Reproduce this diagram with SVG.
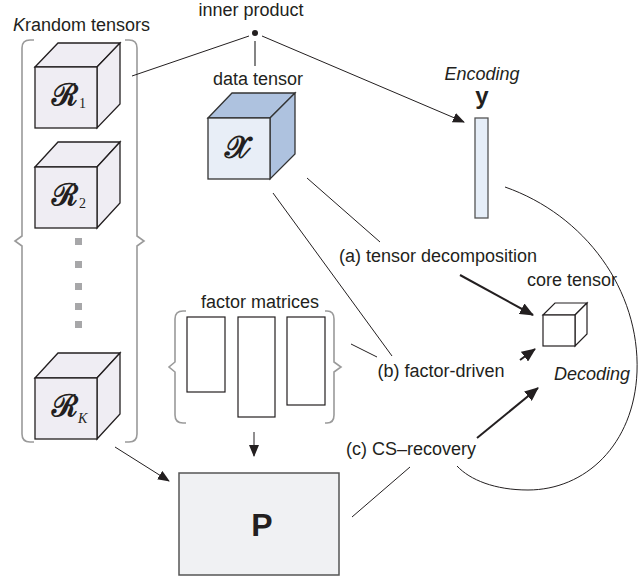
<svg xmlns="http://www.w3.org/2000/svg" width="639" height="579" viewBox="0 0 639 579">
<style>
text{font-family:"Liberation Sans",Arial,sans-serif;font-size:18px;fill:#231f20}
.it{font-style:italic}
.cal{font-family:"DejaVu Serif","Noto Sans Math",serif;font-weight:bold;font-size:30px}
.sub{font-family:"Liberation Serif",serif;font-size:14px}
.big{font-weight:bold;font-size:32px}
.yb{font-weight:bold;font-size:24px}
.rc{fill:#efedf3;stroke:#231f20;stroke-width:1.3}
.xf{fill:#e8eef7;stroke:#333;stroke-width:1.3}
.xs{fill:#aec2df;stroke:#333;stroke-width:1.3}
.br{fill:none;stroke:#9a9a9a;stroke-width:1.6}
.ln{fill:none;stroke:#231f20;stroke-width:1}
.th{fill:none;stroke:#231f20;stroke-width:2}
.mat{fill:#fff;stroke:#231f20;stroke-width:1.2}
</style>
<defs>
<marker id="ah" markerUnits="userSpaceOnUse" markerWidth="12" markerHeight="10" refX="11" refY="5" orient="auto"><path d="M0,0 L12,5 L0,10 Z" fill="#231f20"/></marker>
<marker id="ahb" markerUnits="userSpaceOnUse" markerWidth="14" markerHeight="12" refX="13" refY="6" orient="auto"><path d="M0,0 L14,6 L0,12 Z" fill="#231f20"/></marker>
</defs>

<g id="random-tensors">
<text x="13" y="31"><tspan class="it">K</tspan>random tensors</text>
<path class="br" d="M34,40 H30 Q22,40 22,48 V236 L15,241 L22,246 V434 Q22,442 30,442 H34"/>
<path class="br" d="M125,40 H129 Q137,40 137,48 V236 L144,241 L137,246 V434 Q137,442 129,442 H125"/>
</g>

<g id="R1">
<path class="rc" d="M35,67 L58,43 L120,43 L97,67 Z"/>
<path class="rc" d="M97,67 L120,43 L120,104 L97,128 Z"/>
<rect class="rc" x="35" y="67" width="62" height="61"/>
<text class="cal" x="51" y="105">ℛ</text><text class="sub" x="79" y="108">1</text>
</g>
<g id="R2">
<path class="rc" d="M35,167 L58,142 L120,142 L97,167 Z"/>
<path class="rc" d="M97,167 L120,142 L120,203 L97,228 Z"/>
<rect class="rc" x="35" y="167" width="62" height="61"/>
<text class="cal" x="51" y="205">ℛ</text><text class="sub" x="79" y="208">2</text>
</g>
<g id="dots" fill="#a7a7a9">
<rect x="75" y="238" width="7" height="7"/>
<rect x="75" y="261" width="7" height="7"/>
<rect x="75" y="283" width="7" height="7"/>
<rect x="75" y="303" width="7" height="7"/>
<rect x="75" y="321" width="7" height="7"/>
</g>
<g id="RK">
<path class="rc" d="M35,378 L58,353 L120,353 L97,378 Z"/>
<path class="rc" d="M97,378 L120,353 L120,414 L97,439 Z"/>
<rect class="rc" x="35" y="378" width="62" height="61"/>
<text class="cal" x="51" y="416">ℛ</text><text class="sub it" x="78" y="423">K</text>
</g>

<g id="inner-product">
<text x="251" y="16" text-anchor="middle">inner product</text>
<circle cx="255" cy="33" r="3" fill="#231f20"/>
</g>

<g id="data-tensor">
<text x="258" y="85" text-anchor="middle">data tensor</text>
<path class="xs" d="M208,118 L232,93 L295,93 L270,118 Z"/>
<path class="xs" d="M270,118 L295,93 L295,154 L270,179 Z"/>
<rect class="xf" x="208" y="118" width="62" height="61"/>
<text class="cal" x="224" y="158">𝒳</text>
</g>

<g id="encoding">
<text class="it" x="482" y="80" text-anchor="middle">Encoding</text>
<text class="yb" x="482" y="104" text-anchor="middle">y</text>
<rect x="475" y="118" width="13" height="100" fill="#e6eef8" stroke="#555" stroke-width="1.3"/>
</g>

<g id="core-tensor">
<text x="572" y="286" text-anchor="middle">core tensor</text>
<path class="mat" d="M543,315 L555,303 L587,303 L575,315 Z"/>
<path class="mat" d="M575,315 L587,303 L587,334 L575,346 Z"/>
<rect class="mat" x="543" y="315" width="32" height="31"/>
<text class="it" x="592" y="380" text-anchor="middle">Decoding</text>
</g>

<g id="labels">
<text x="438" y="262" text-anchor="middle">(a) tensor decomposition</text>
<text x="441" y="377" text-anchor="middle">(b) factor-driven</text>
<text x="411" y="455" text-anchor="middle">(c) CS–recovery</text>
</g>

<g id="factor-matrices">
<text x="260" y="308" text-anchor="middle">factor matrices</text>
<path class="br" d="M186,311 H183 Q175,311 175,319 V362 L169,367 L175,372 V415 Q175,423 183,423 H186"/>
<path class="br" d="M325,311 H327 Q334,311 334,319 V362 L341,367 L334,372 V415 Q334,423 327,423 H325"/>
<rect class="mat" x="187" y="317" width="38" height="75"/>
<rect class="mat" x="238" y="317" width="37" height="100"/>
<rect class="mat" x="287" y="317" width="38" height="88"/>
</g>

<g id="P">
<rect x="179" y="473" width="160" height="102" fill="#f0f1f3" stroke="#555" stroke-width="1.5"/>
<text class="big" x="262" y="536" text-anchor="middle">P</text>
</g>

<g id="connectors">
<line class="ln" x1="249" y1="36" x2="132" y2="76"/>
<line x1="255" y1="41" x2="255" y2="66" stroke="#666" stroke-width="1.6"/>
<line class="ln" x1="262" y1="36" x2="464" y2="122" marker-end="url(#ah)"/>
<line class="ln" x1="307" y1="178" x2="380" y2="242"/>
<line class="ln" x1="273" y1="193" x2="392" y2="356"/>
<line class="ln" x1="351" y1="344" x2="377" y2="357"/>
<line class="ln" x1="352" y1="517" x2="410" y2="467"/>
<line class="ln" x1="115" y1="447" x2="169" y2="481" marker-end="url(#ah)"/>
<line class="ln" x1="254" y1="432" x2="254" y2="456" marker-end="url(#ah)"/>
<line class="th" x1="460" y1="275" x2="533" y2="315" marker-end="url(#ahb)"/>
<line class="th" x1="520" y1="360" x2="535" y2="349" marker-end="url(#ahb)"/>
<line class="th" x1="477" y1="438" x2="538" y2="388" marker-end="url(#ahb)"/>
<path class="ln" d="M505,187 C585,215 640,290 637,372 C634,445 585,490 528,490 C495,490 470,480 457,466"/>
</g>
</svg>
